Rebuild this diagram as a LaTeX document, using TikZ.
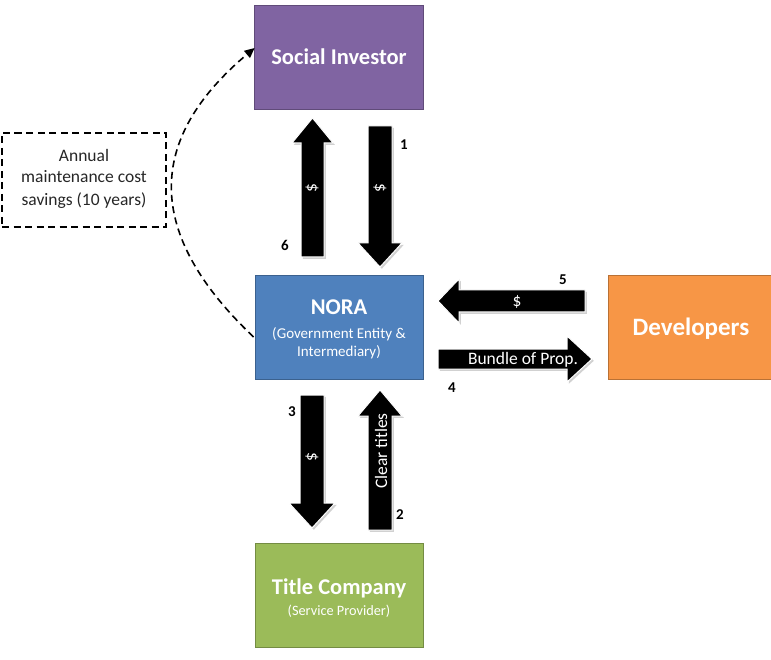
\documentclass[tikz,border=0pt]{standalone}
\usepackage{fontspec}
\setmainfont{Carlito}
\usetikzlibrary{arrows.meta,calc,shadows}
\definecolor{sipurple}{RGB}{128,100,162}
\definecolor{norablue}{RGB}{79,129,189}
\definecolor{devorange}{RGB}{247,150,70}
\definecolor{tcgreen}{RGB}{155,187,89}
\begin{document}
\begin{tikzpicture}[x=1pt,y=-1pt,
  box/.style={rectangle, draw=#1!75!black, line width=0.8pt, fill=#1, inner sep=0pt},
  boxtxt/.style={text=white, inner sep=0pt, anchor=base},
  blk/.style={fill=black, draw=white, line width=1pt, line join=miter,
     drop shadow={fill=black!30, opacity=0.6, shadow xshift=1.8pt, shadow yshift=-1.8pt}},
  num/.style={font=\fontsize{15}{17}\selectfont\bfseries, text=black, inner sep=0pt},
  inl/.style={font=\fontsize{17.5}{20}\selectfont, text=white, inner sep=0pt},
  plain/.style={text=black!85, inner sep=0pt, anchor=base, font=\fontsize{17.5}{20}\selectfont},
  dashline/.style={dash pattern=on 7pt off 4.5pt, line width=1.6pt}
]
\useasboundingbox (0,0) rectangle (771,660);

% boxes
\node[box=sipurple, minimum width=169pt, minimum height=104pt] (si) at (338.5,57) {};
\node[box=norablue, minimum width=168pt, minimum height=104pt] (nora) at (339,327) {};
\node[box=devorange, minimum width=164pt, minimum height=104pt] (dev) at (690,327) {};
\node[box=tcgreen, minimum width=168pt, minimum height=104pt] (tc) at (339,595) {};
\node[draw=black, dashline, minimum width=164pt, minimum height=94pt, inner sep=0pt] (sav) at (84,180) {};

% box texts
\node[boxtxt, font=\fontsize{22.5}{26}\selectfont\bfseries] (sit) at (339,65) {Social Investor};
\node[boxtxt, font=\fontsize{22.5}{26}\selectfont\bfseries] (norat) at (339,315) {NORA};
\node[boxtxt, font=\fontsize{15}{18}\selectfont] (norat2) at (339,338) {(Government Entity \&};
\node[boxtxt, font=\fontsize{15}{18}\selectfont] (norat3) at (339,356) {Intermediary)};
\node[boxtxt, font=\fontsize{25}{28}\selectfont\bfseries] (devt) at (691,335) {Developers};
\node[boxtxt, font=\fontsize{22.5}{26}\selectfont\bfseries] (tct) at (339,594) {Title Company};
\node[boxtxt, font=\fontsize{14.3}{17}\selectfont] (tct2) at (339,615) {(Service Provider)};
\node[plain] (sav1) at (84,162) {Annual};
\node[plain] (sav2) at (84,183) {maintenance cost};
\node[plain] (sav3) at (84,206) {savings (10 years)};

% dashed curve from NORA to Social Investor
\draw[dashline, -{Triangle[length=10pt,width=9pt]}]
  ($(nora.west)+(-1,10)$) .. controls (145,234) and (145,140) .. ($(si.west)+(1,-9)$);

% block arrows
% 6 up (NORA -> SI)
\path[blk] (301,257) -- (324,257) -- (324,143) -- (333,143) -- (312.5,118) -- (292,143) -- (301,143) -- cycle;
% 1 down (SI -> NORA)
\path[blk] (368,126) -- (392,126) -- (392,243) -- (402,243) -- (380,267) -- (358,243) -- (368,243) -- cycle;
% 5 left (Dev -> NORA)
\path[blk] (585,290) -- (585,312) -- (459,312) -- (459,323) -- (438,301) -- (459,279) -- (459,290) -- cycle;
% 4 right (NORA -> Dev)
\path[blk] (438,349) -- (567,349) -- (567,336) -- (592,359) -- (567,382) -- (567,369) -- (438,369) -- cycle;
% 3 down (NORA -> TC)
\path[blk] (300,395) -- (324,395) -- (324,503) -- (335,503) -- (312,528) -- (289,503) -- (300,503) -- cycle;
% 2 up (TC -> NORA)
\path[blk] (368,530) -- (392,530) -- (392,416) -- (402,416) -- (380,390) -- (358,416) -- (368,416) -- cycle;

% arrow texts
\node[inl, rotate=90] (d6) at (312,188) {\$};
\node[inl, rotate=-90] (d1) at (380,188) {\$};
\node[inl, anchor=base] (d5) at (517,306) {\$};
\node[inl, anchor=base] (d4) at (523,364) {Bundle of Prop.};
\node[inl, rotate=-90] (d3) at (312,457) {\$};
\node[inl, rotate=90] (d2) at (381,451) {Clear titles};

% step numbers
\node[num] (n1) at (404,145) {1};
\node[num] (n2) at (400,515) {2};
\node[num] (n3) at (292,412) {3};
\node[num] (n4) at (452,388) {4};
\node[num] (n5) at (563,280) {5};
\node[num] (n6) at (285,245) {6};
\end{tikzpicture}
\end{document}
